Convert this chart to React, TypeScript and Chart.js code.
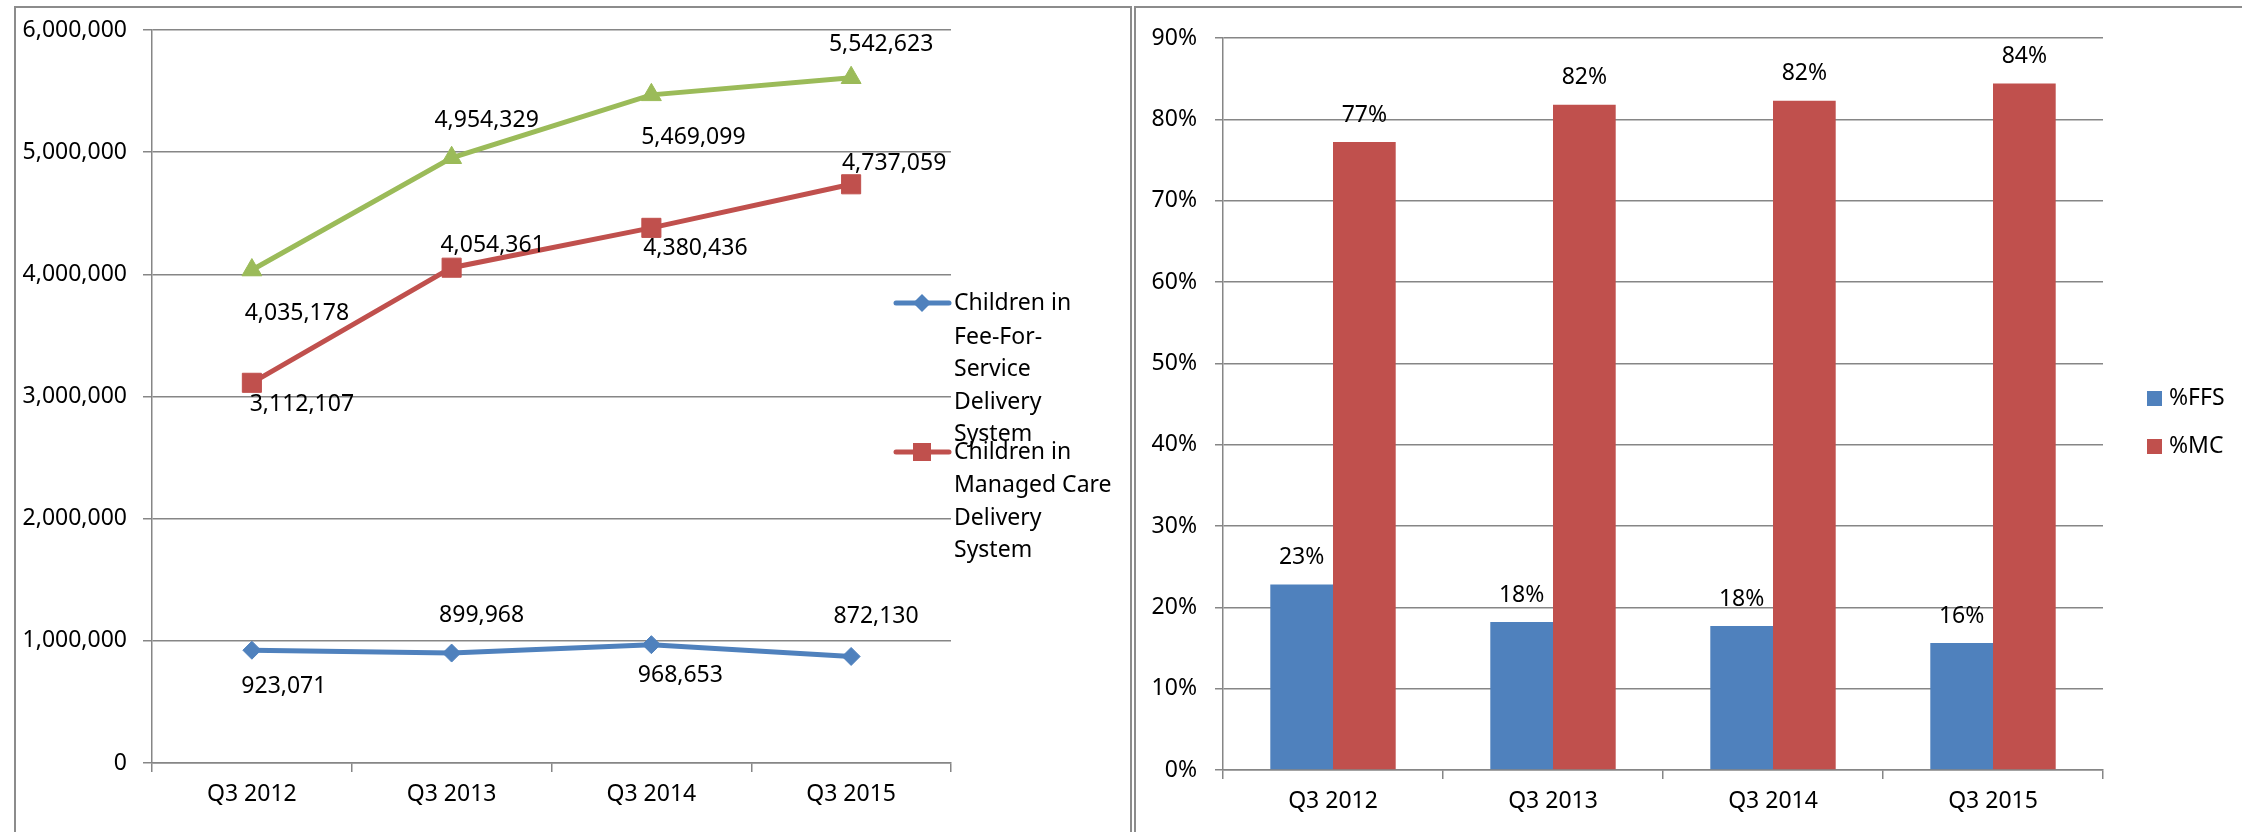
import React, { useEffect, useRef } from 'react';
import { Chart, registerables } from 'chart.js';

Chart.register(...registerables);

// ---------- data ----------
const categories = ['Q3 2012', 'Q3 2013', 'Q3 2014', 'Q3 2015'];
const ffsChildren = [923071, 899968, 968653, 872130];
const mcChildren = [3112107, 4054361, 4380436, 4737059];
const totalChildren = [4035178, 4954329, 5469099, 5609189];
const ffsLabels = ['923,071', '899,968', '968,653', '872,130'];
const mcLabels = ['3,112,107', '4,054,361', '4,380,436', '4,737,059'];
const totalLabels = ['4,035,178', '4,954,329', '5,469,099', '5,542,623'];
const countTicks = [0, 1000000, 2000000, 3000000, 4000000, 5000000, 6000000];

const ffsPct = [22.8, 18.2, 17.7, 15.6];
const mcPct = [77.2, 81.8, 82.3, 84.4];
const pctTicks = [0, 10, 20, 30, 40, 50, 60, 70, 80, 90];

const lineLegendTexts = [
  ['Children in', 'Fee-For-', 'Service', 'Delivery', 'System'],
  ['Children in', 'Managed Care', 'Delivery', 'System'],
];
const barLegendTexts = ['%FFS', '%MC'];

// ---------- styles ----------
const BLUE = '#4F81BD';
const RED = '#C0504D';
const GREEN = '#9BBB59';
const GRID = '#868686';
const FONT = '"Noto Sans", "Open Sans", "Liberation Sans", sans-serif';
const FS = 23;
const LINE_W = 5;

// label offsets (px) relative to each point, per dataset
const lineLabelOffsets = [
  [[32, 36], [30, -38], [29, 31], [25, -40]],
  [[50, 22], [41, -22], [44, 21], [43, -21]],
  [[45, 43], [35, -37], [42, 43], [30, -33]],
];

const lineLabelPlugin = {
  id: 'lineLabels',
  afterDatasetsDraw(chart: any) {
    const ctx = chart.ctx;
    const all = [ffsLabels, mcLabels, totalLabels];
    ctx.save();
    ctx.font = `${FS}px ${FONT}`;
    ctx.fillStyle = '#000';
    ctx.textAlign = 'center';
    ctx.textBaseline = 'middle';
    all.forEach((labels, i) => {
      const meta = chart.getDatasetMeta(i);
      meta.data.forEach((el: any, j: number) => {
        const off = lineLabelOffsets[i][j];
        ctx.fillText(labels[j], el.x + off[0], el.y + off[1]);
      });
    });
    ctx.restore();
  },
};

const lineLegendPlugin = {
  id: 'lineLegend',
  afterDraw(chart: any) {
    const ctx = chart.ctx;
    ctx.save();
    const entries = [
      { color: BLUE, y: 303, lines: lineLegendTexts[0], ys: [303, 337, 369, 402, 434], shape: 'diamond' },
      { color: RED, y: 452, lines: lineLegendTexts[1], ys: [452, 485, 518, 550], shape: 'square' },
    ];
    entries.forEach((e) => {
      ctx.strokeStyle = e.color;
      ctx.lineWidth = LINE_W;
      ctx.lineCap = 'round';
      ctx.beginPath();
      ctx.moveTo(896, e.y);
      ctx.lineTo(949, e.y);
      ctx.stroke();
      ctx.fillStyle = e.color;
      ctx.beginPath();
      if (e.shape === 'diamond') {
        ctx.moveTo(922, e.y - 9);
        ctx.lineTo(931, e.y);
        ctx.lineTo(922, e.y + 9);
        ctx.lineTo(913, e.y);
        ctx.closePath();
      } else {
        ctx.rect(913, e.y - 9, 18, 18);
      }
      ctx.fill();
      ctx.fillStyle = '#000';
      ctx.font = `${FS}px ${FONT}`;
      ctx.textAlign = 'left';
      ctx.textBaseline = 'middle';
      e.lines.forEach((t, k) => ctx.fillText(t, 954, e.ys[k]));
    });
    ctx.restore();
  },
};

const barLabelPlugin = {
  id: 'barLabels',
  afterDatasetsDraw(chart: any) {
    const ctx = chart.ctx;
    ctx.save();
    ctx.font = `${FS}px ${FONT}`;
    ctx.fillStyle = '#000';
    ctx.textAlign = 'center';
    ctx.textBaseline = 'middle';
    [ffsPct, mcPct].forEach((vals, i) => {
      const meta = chart.getDatasetMeta(i);
      meta.data.forEach((el: any, j: number) => {
        ctx.fillText(`${Math.round(vals[j])}%`, el.x, el.y - 27);
      });
    });
    ctx.restore();
  },
};

const barLegendPlugin = {
  id: 'barLegend',
  afterDraw(chart: any) {
    const ctx = chart.ctx;
    ctx.save();
    const ys = [398.5, 446.5];
    [BLUE, RED].forEach((c, i) => {
      ctx.fillStyle = c;
      ctx.fillRect(1014, ys[i] - 7.5, 15, 15);
      ctx.fillStyle = '#000';
      ctx.font = `${FS}px ${FONT}`;
      ctx.textAlign = 'left';
      ctx.textBaseline = 'middle';
      ctx.fillText(barLegendTexts[i], 1036, ys[i]);
    });
    ctx.restore();
  },
};

const tickFont = { family: FONT, size: FS };

export default function App() {
  const leftRef = useRef<HTMLCanvasElement>(null);
  const rightRef = useRef<HTMLCanvasElement>(null);

  useEffect(() => {
    document.body.style.margin = '0';
    const left = new Chart(leftRef.current as HTMLCanvasElement, {
      type: 'line',
      data: {
        labels: categories,
        datasets: [
          {
            label: 'Children in Fee-For-Service Delivery System',
            data: ffsChildren,
            borderColor: BLUE,
            backgroundColor: BLUE,
            borderWidth: LINE_W,
            pointStyle: 'rectRot',
            pointRadius: 9,
            pointBorderWidth: 1,
            pointBackgroundColor: BLUE,
            pointBorderColor: BLUE,
            tension: 0,
          },
          {
            label: 'Children in Managed Care Delivery System',
            data: mcChildren,
            borderColor: RED,
            backgroundColor: RED,
            borderWidth: LINE_W,
            pointStyle: 'rect',
            pointRadius: 13.5,
            pointBorderWidth: 1,
            pointBackgroundColor: RED,
            pointBorderColor: RED,
            tension: 0,
          },
          {
            label: 'Total',
            data: totalChildren,
            borderColor: GREEN,
            backgroundColor: GREEN,
            borderWidth: LINE_W,
            pointStyle: 'triangle',
            pointRadius: 11.5,
            pointBorderWidth: 1,
            pointBackgroundColor: GREEN,
            pointBorderColor: GREEN,
            tension: 0,
          },
        ],
      },
      options: {
        animation: false,
        responsive: false,
        layout: { padding: { top: 30, right: 182, left: 0, bottom: 0 } },
        plugins: { legend: { display: false }, tooltip: { enabled: false } },
        scales: {
          x: {
            offset: true,
            grid: { offset: true, drawOnChartArea: false, drawTicks: true, tickLength: 9, color: GRID, lineWidth: 1.5 },
            border: { color: GRID, width: 1.5 },
            ticks: { font: tickFont, color: '#000', padding: 9, maxRotation: 0 },
            afterFit: (s: any) => { s.height = 69; },
          },
          y: {
            min: 0,
            max: 6000000,
            afterBuildTicks: (s: any) => { s.ticks = countTicks.map((v) => ({ value: v })); },
            ticks: {
              font: tickFont,
              color: '#000',
              padding: 16,
              callback: (v: any) => Number(v).toLocaleString('en-US'),
            },
            grid: { color: GRID, lineWidth: 1.5, tickLength: 9 },
            border: { color: GRID, width: 1.5 },
            afterFit: (s: any) => { s.width = 152; },
          },
        },
      } as any,
      plugins: [lineLabelPlugin, lineLegendPlugin],
    });

    const right = new Chart(rightRef.current as HTMLCanvasElement, {
      type: 'bar',
      data: {
        labels: categories,
        datasets: [
          { label: '%FFS', data: ffsPct, backgroundColor: BLUE, barPercentage: 1, categoryPercentage: 0.57 },
          { label: '%MC', data: mcPct, backgroundColor: RED, barPercentage: 1, categoryPercentage: 0.57 },
        ],
      },
      options: {
        animation: false,
        responsive: false,
        layout: { padding: { top: 38, right: 139, left: 0, bottom: 0 } },
        plugins: { legend: { display: false }, tooltip: { enabled: false } },
        scales: {
          x: {
            grid: { offset: true, drawOnChartArea: false, drawTicks: true, tickLength: 9, color: GRID, lineWidth: 1.5 },
            border: { color: GRID, width: 1.5 },
            ticks: { font: tickFont, color: '#000', padding: 9, maxRotation: 0 },
            afterFit: (s: any) => { s.height = 62; },
          },
          y: {
            min: 0,
            max: 90,
            afterBuildTicks: (s: any) => { s.ticks = pctTicks.map((v) => ({ value: v })); },
            ticks: { font: tickFont, color: '#000', padding: 18, callback: (v: any) => `${v}%` },
            grid: { color: GRID, lineWidth: 1.5, tickLength: 8 },
            border: { color: GRID, width: 1.5 },
            afterFit: (s: any) => { s.width = 90; },
          },
        },
      } as any,
      plugins: [barLabelPlugin, barLegendPlugin],
    });

    return () => {
      left.destroy();
      right.destroy();
    };
  }, []);

  return (
    <div style={{ position: 'relative', width: 2242, height: 832, overflow: 'hidden', background: '#fff' }}>
      <div style={{ position: 'absolute', left: 14, top: 6, width: 1118, height: 900, border: '2px solid #8c8c8c', boxSizing: 'border-box' }} />
      <div style={{ position: 'absolute', left: 1134, top: 6, width: 1200, height: 900, border: '2px solid #8c8c8c', boxSizing: 'border-box' }} />
      <canvas ref={leftRef} width={1133} height={832} style={{ position: 'absolute', left: 0, top: 0, display: 'block' }} />
      <canvas ref={rightRef} width={1109} height={832} style={{ position: 'absolute', left: 1133, top: 0, display: 'block' }} />
    </div>
  );
}
